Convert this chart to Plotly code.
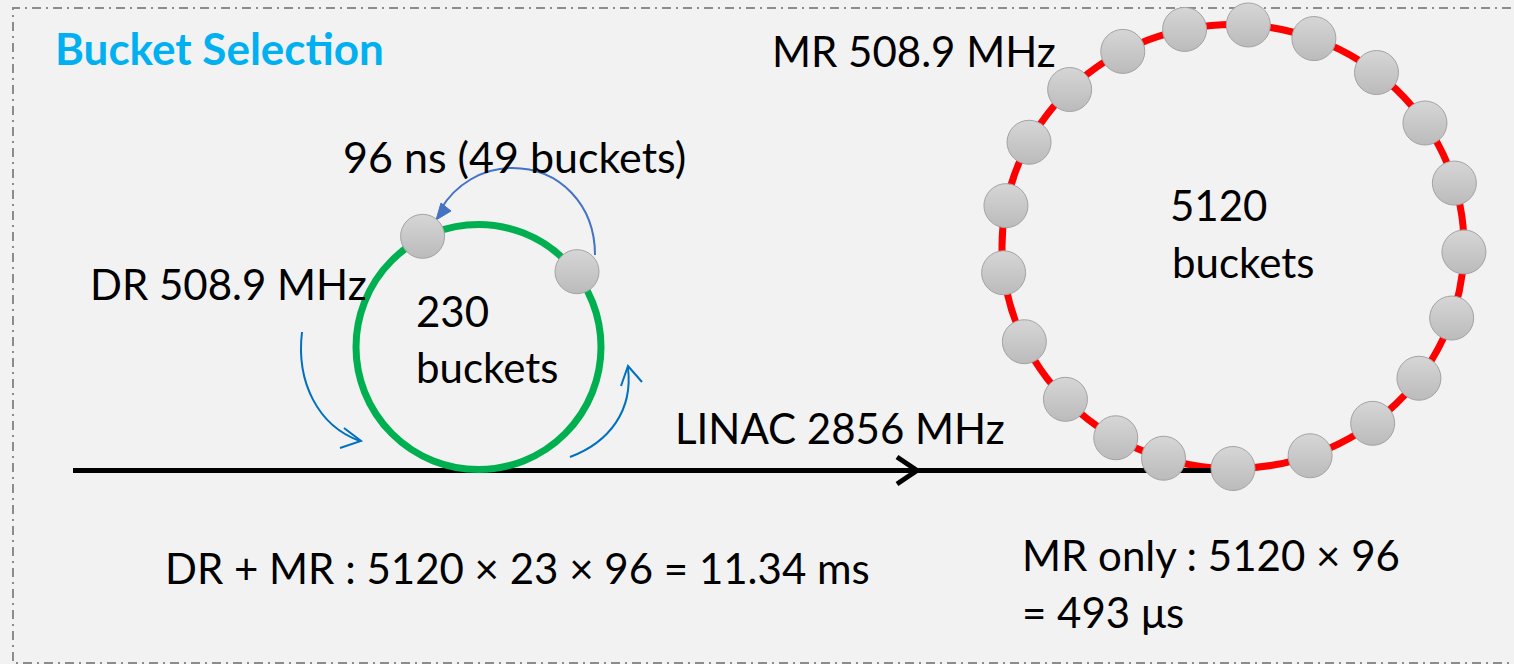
import numpy as np
import plotly.graph_objects as go

# ---------------- data ----------------
title_text = "Bucket Selection"
mr_label = "MR 508.9 MHz"
dr_label = "DR 508.9 MHz"
linac_label = "LINAC 2856 MHz"
jump_label = "96 ns (49 buckets)"
dr_buckets = ["230", "buckets"]
mr_buckets = ["5120", "buckets"]
dr_mr_formula = "DR + MR : 5120 × 23 × 96 = 11.34 ms"
mr_only_formula = ["MR only : 5120 × 96", "= 493 μs"]

# bucket (bunch) angular positions on each ring, degrees (counter-clockwise, 0 = east)
mr_bucket_angles = [102.1, 86.2, 69.5, 51.6, 33.8, 16.6, -1.4, -18.8, -36.4, -52.8,
                    -70.5, -90.0, -107.5, -120.5, -136.5, -154.6, -173.2, 169.4,
                    152.0, 135.0, 118.5]
dr_bucket_angles = [116.8, 37.4]

# ---------------- geometry (pixel-like canvas) ----------------
W, H = 1514, 664
FONT = "Lato"
BODY = 42

MR_C, MR_RX, MR_RY = (1233, 246.5), 231, 222
DR_C, DR_R = (478.5, 347), 122.5
DR_BALL_R = 124
BEAM_Y = 470.5


def ring_xy(center, rx, ry, angles):
    a = np.radians(np.asarray(angles, dtype=float))
    return center[0] + rx * np.cos(a), center[1] - ry * np.sin(a)


fig = go.Figure()

ball_marker = dict(size=44, color="#d6d6d6",
                   gradient=dict(type="vertical", color="#bbbbbb"),
                   line=dict(color="#a3a3a3", width=1))

mx, my = ring_xy(MR_C, MR_RX, MR_RY, mr_bucket_angles)
fig.add_trace(go.Scatter(x=mx, y=my, mode="markers", marker=ball_marker,
                         hoverinfo="skip", showlegend=False))
dx, dy = ring_xy(DR_C, DR_BALL_R, DR_BALL_R, dr_bucket_angles)
fig.add_trace(go.Scatter(x=dx, y=dy, mode="markers", marker=ball_marker,
                         hoverinfo="skip", showlegend=False))

shapes = []
# panel background
shapes.append(dict(type="rect", xref="x", yref="y", x0=13, x1=W + 60, y0=8, y1=663,
                   fillcolor="#f2f2f2", line=dict(width=0), layer="below"))
# dash-dot border (right edge is outside the picture)
shapes.append(dict(type="path", xref="x", yref="y",
                   path=f"M {W + 60},8 L 13,8 L 13,663 L {W + 60},663",
                   line=dict(color="#8c8c8c", width=2, dash="9px,5px,2px,5px"),
                   layer="below"))
# MR ring
shapes.append(dict(type="circle", xref="x", yref="y",
                   x0=MR_C[0] - MR_RX, x1=MR_C[0] + MR_RX,
                   y0=MR_C[1] - MR_RY, y1=MR_C[1] + MR_RY,
                   line=dict(color="#ff0000", width=7), layer="below"))
# beam line
shapes.append(dict(type="line", xref="x", yref="y", x0=73, x1=MR_C[0], y0=BEAM_Y, y1=BEAM_Y,
                   line=dict(color="#000000", width=5), layer="below"))
# DR ring
shapes.append(dict(type="circle", xref="x", yref="y",
                   x0=DR_C[0] - DR_R, x1=DR_C[0] + DR_R,
                   y0=DR_C[1] - DR_R, y1=DR_C[1] + DR_R,
                   line=dict(color="#00b050", width=7), layer="below"))
# chevron arrowhead on the beam line
shapes.append(dict(type="path", xref="x", yref="y",
                   path="M 897,457 L 917,470.5 L 897,484",
                   line=dict(color="#000000", width=5), layer="below"))
# 96 ns jump arrow
shapes.append(dict(type="path", xref="x", yref="y",
                   path="M 595,255 C 595,205 560,168 512,168 C 482,168 455,185 441,209",
                   line=dict(color="#4472c4", width=2), layer="below"))
shapes.append(dict(type="path", xref="x", yref="y",
                   path="M 436,220 L 441,203 L 451,211 Z",
                   fillcolor="#4472c4", line=dict(color="#4472c4", width=1), layer="below"))
# circulation arrows
shapes.append(dict(type="path", xref="x", yref="y",
                   path="M 302,332 C 296,382 318,426 360,441",
                   line=dict(color="#0070c0", width=2)))
shapes.append(dict(type="path", xref="x", yref="y",
                   path="M 344,428 L 361,441 L 340,448",
                   line=dict(color="#0070c0", width=2)))
shapes.append(dict(type="path", xref="x", yref="y",
                   path="M 570,457 C 610,442 633,410 628,368",
                   line=dict(color="#0070c0", width=2)))
shapes.append(dict(type="path", xref="x", yref="y",
                   path="M 621,386 L 628,366 L 642,382",
                   line=dict(color="#0070c0", width=2)))

annotations = []


def label(text, x, y, size=BODY, color="#000000", bold=False):
    t = f"<b>{text}</b>" if bold else text
    annotations.append(dict(text=t, x=x, y=y, xref="x", yref="y", xanchor="left",
                            yanchor="middle", showarrow=False,
                            font=dict(family=FONT, size=size, color=color)))


label(title_text, 53, 48, size=44, color="#00b0f0", bold=True)
label(mr_label, 770, 51)
label(jump_label, 341, 156, size=43)
label(dr_label, 88, 284)
label(dr_buckets[0], 414, 311)
label(dr_buckets[1], 414, 367)
label(mr_buckets[0], 1168, 205)
label(mr_buckets[1], 1170, 262)
label(linac_label, 673, 428)
label(dr_mr_formula, 163, 568)
label(mr_only_formula[0], 1020, 555)
label(mr_only_formula[1], 1020, 612)

fig.update_layout(
    width=W, height=H, margin=dict(l=0, r=0, t=0, b=0),
    paper_bgcolor="#ffffff", plot_bgcolor="#f2f2f2",
    xaxis=dict(range=[0, W], visible=False, fixedrange=True),
    yaxis=dict(range=[H, 0], visible=False, fixedrange=True),
    shapes=shapes, annotations=annotations, showlegend=False,
)

fig.write_html("out.html", config={"displayModeBar": False},
               post_script="document.body.style.margin='0';document.body.style.overflow='hidden';")
